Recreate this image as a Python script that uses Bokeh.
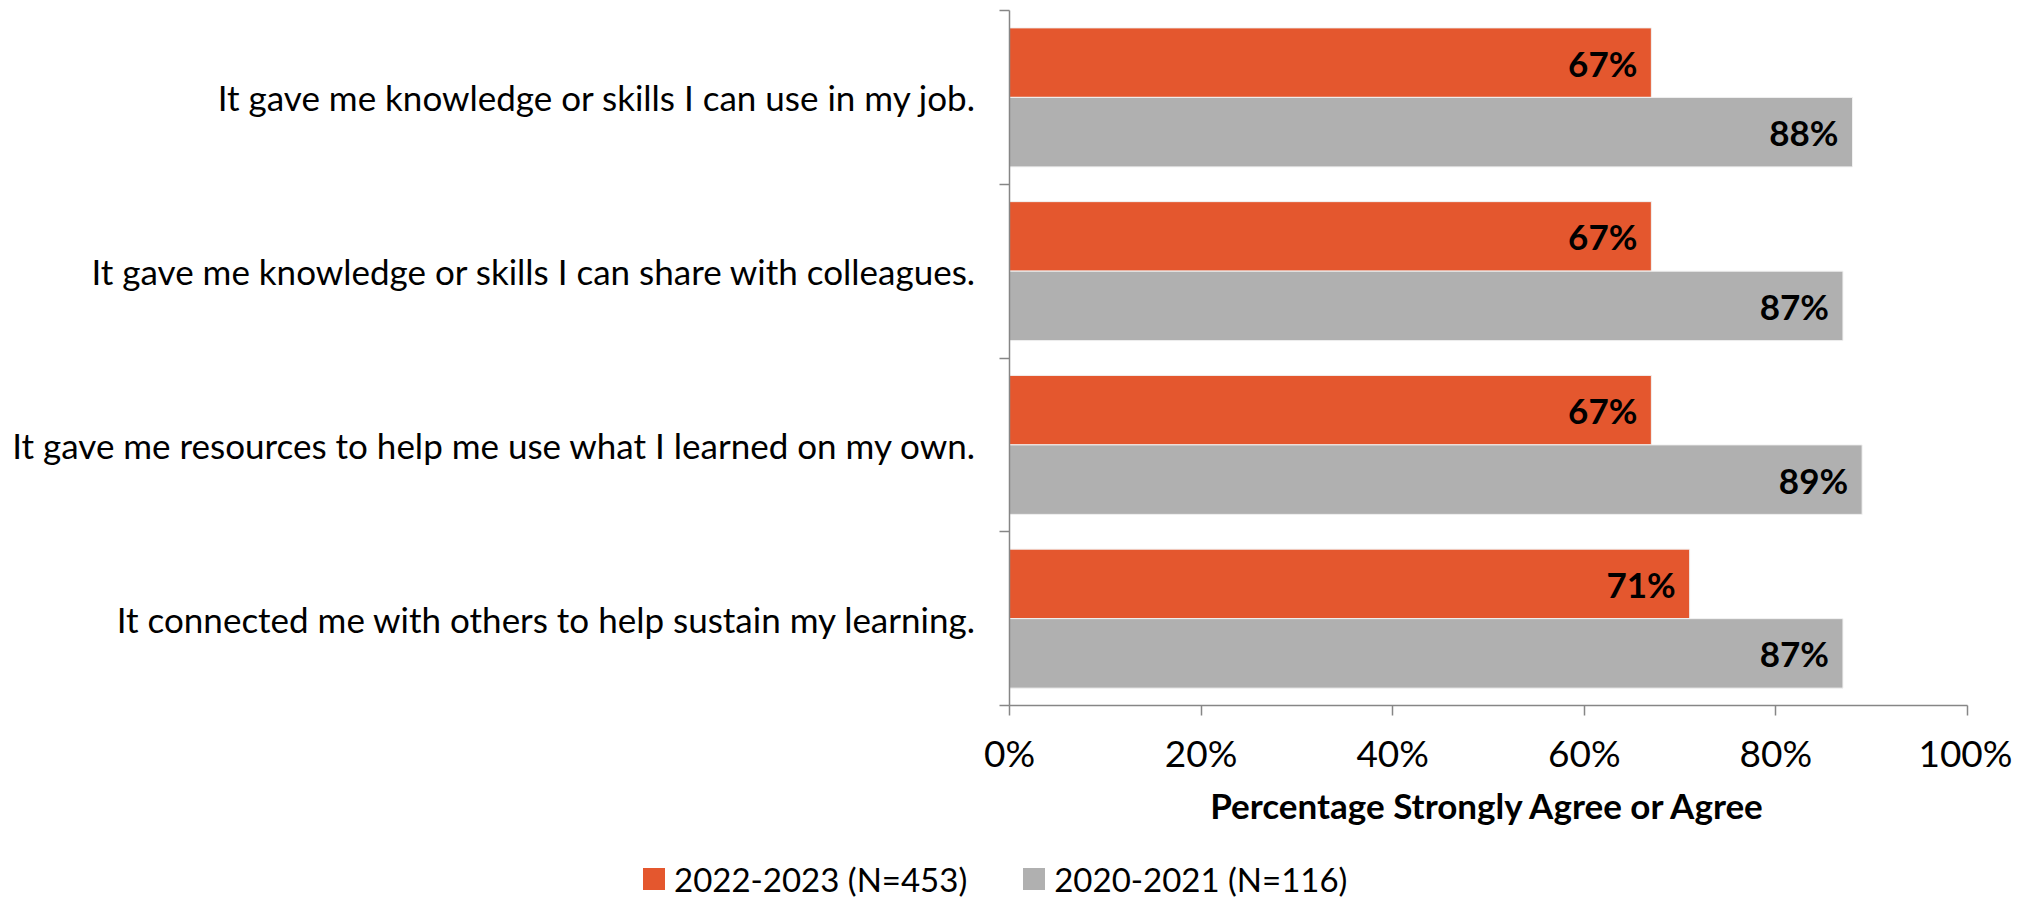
from bokeh.plotting import figure
from bokeh.layouts import column
from bokeh.models import (Range1d, LinearAxis, FixedTicker, PrintfTickFormatter,
                          ColumnDataSource, Div)
from bokeh.transform import dodge
from bokeh.core.properties import value
from bokeh.embed import file_html
from bokeh.resources import INLINE

# ---- data ----
statements = [
    "It gave me knowledge or skills I can use in my job.",
    "It gave me knowledge or skills I can share with colleagues.",
    "It gave me resources to help me use what I learned on my own.",
    "It connected me with others to help sustain my learning.",
]
pct_2022_2023 = [67, 67, 67, 71]
pct_2020_2021 = [88, 87, 89, 87]
series_names = ["2022-2023 (N=453)", "2020-2021 (N=116)"]
x_ticks = [0, 20, 40, 60, 80, 100]
x_title = "Percentage Strongly Agree or Agree"

# ---- style ----
ORANGE = "#E4572E"
GRAY = "#B0B0B0"
AXIS = "#868686"
FONT = "Lato"
W = 2012

n = len(statements)
pos = [n - i - 0.5 for i in range(n)]  # category slots, first statement on top

src = ColumnDataSource(dict(
    statement=statements,
    pos=pos,
    a=pct_2022_2023,
    b=pct_2020_2021,
    la=[f"{v}%" for v in pct_2022_2023],
    lb=[f"{v}%" for v in pct_2020_2021],
))

p = figure(
    width=W, height=835,
    y_range=Range1d(0, n),
    x_range=Range1d(0, 100),
    output_backend="svg", toolbar_location=None,
    y_axis_location=None,
    min_border_left=1009, min_border_right=45, min_border_top=10, min_border_bottom=130,
)
p.outline_line_color = None
p.xgrid.visible = False
p.ygrid.visible = False
p.background_fill_color = "white"
p.border_fill_color = "white"

# x axis
xa = p.xaxis[0]
xa.ticker = FixedTicker(ticks=x_ticks)
xa.formatter = PrintfTickFormatter(format="%d%%")
xa.axis_line_color = AXIS
xa.axis_line_width = 1.5
xa.major_tick_line_color = AXIS
xa.major_tick_line_width = 1.5
xa.major_tick_out = 10
xa.major_tick_in = 0
xa.minor_tick_line_color = None
xa.major_label_text_font = FONT
xa.major_label_text_font_size = "37px"
xa.major_label_text_color = "black"
xa.major_label_standoff = 14
xa.axis_label = x_title
xa.axis_label_text_font = FONT
xa.axis_label_text_font_size = "35px"
xa.axis_label_text_font_style = "bold"
xa.axis_label_text_color = "black"
xa.axis_label_standoff = 6

# y axis: ticks at category boundaries + category labels
bounds = list(range(n + 1))
tick_axis = LinearAxis(
    ticker=FixedTicker(ticks=bounds),
    major_label_overrides={b: "" for b in bounds},
    major_label_text_font_size="0px",
    major_label_standoff=0,
    major_tick_out=10, major_tick_in=0,
    minor_tick_line_color=None,
    axis_line_color=AXIS, axis_line_width=1.5,
    major_tick_line_color=AXIS, major_tick_line_width=1.5,
)
label_axis = LinearAxis(
    ticker=FixedTicker(ticks=pos),
    major_label_overrides={y: s for y, s in zip(pos, statements)},
    major_tick_line_color=None, major_tick_out=0, major_tick_in=0,
    minor_tick_line_color=None,
    axis_line_color=None,
    major_label_text_font=FONT,
    major_label_text_font_size="35px",
    major_label_text_color="black",
    major_label_standoff=23,
)
p.add_layout(tick_axis, "left")
p.add_layout(label_axis, "left")

# bars
bh = 0.40
bar_kw = dict(source=src, left=0, height=bh, line_color="#F2F2F2", line_width=1)
p.hbar(y=dodge("pos", bh / 2), right="a", fill_color=ORANGE, **bar_kw)
p.hbar(y=dodge("pos", -bh / 2), right="b", fill_color=GRAY, **bar_kw)

# data labels
for col, lab, off in (("a", "la", bh / 2), ("b", "lb", -bh / 2)):
    p.text(x=col, y=dodge("pos", off), text=lab, source=src,
           x_offset=-14, text_align="right", text_baseline="middle",
           text_font=value(FONT), text_font_style="bold", text_font_size="35px",
           text_color="black")

# legend strip below the chart
swatches = [ORANGE, GRAY]
items_html = "".join(
    f'<span style="display:inline-flex;align-items:center;margin-right:56px;">'
    f'<span style="display:inline-block;width:22px;height:22px;background:{c};margin-right:9px;"></span>'
    f'<span>{name}</span></span>'
    for name, c in zip(series_names, swatches)
)
legend_div = Div(
    text=(f'<div style="padding-left:638px;padding-top:17px;font-family:{FONT};'
          f'font-size:33px;line-height:40px;color:black;white-space:nowrap;">{items_html}</div>'),
    width=W, height=58,
)

layout = column(p, legend_div, spacing=0)
open("out.html", "w").write(file_html(layout, INLINE))
